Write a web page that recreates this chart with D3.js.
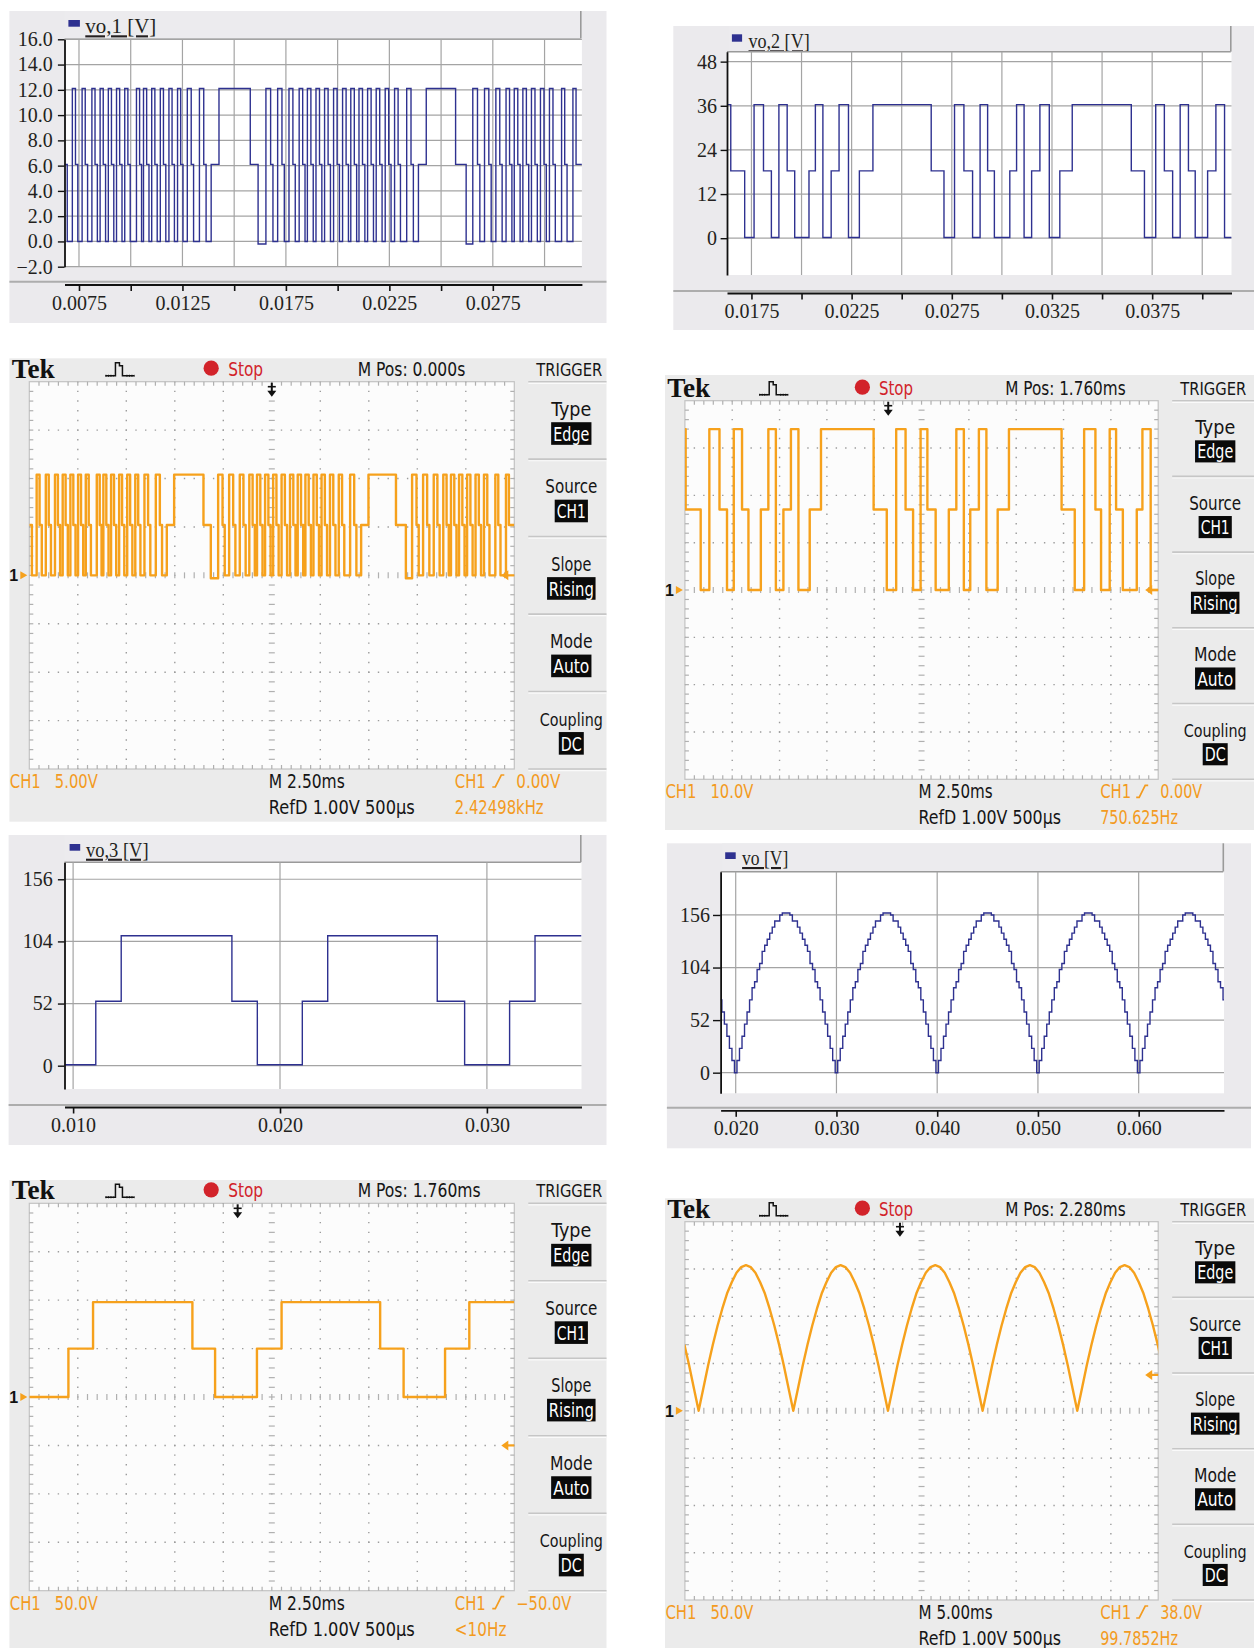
<!DOCTYPE html>
<html><head><meta charset="utf-8">
<script src="https://d3js.org/d3.v7.min.js"></script>
<style>html,body{margin:0;padding:0;background:#fff;} svg{display:block;}</style>
</head><body>
<svg id="fig" width="1254" height="1648" xmlns="http://www.w3.org/2000/svg"></svg>
<script>
// ================= DATA =================
// vo,1 simulation: [time ms, level V] (step after)
const vo1Steps = [[6.80,6.1],[6.933,0],
[7.179,12.1],[7.330,6.1],[7.443,0],[7.651,12.1],[7.802,6.1],[7.916,0],[8.124,12.1],[8.275,6.1],[8.388,0],
[8.521,12.1],[8.672,6.1],[8.785,0],[8.918,12.1],[9.069,6.1],[9.182,0],[9.314,12.1],[9.466,6.1],[9.579,0],
[9.711,12.1],[9.863,6.1],[9.976,0],[10.278,12.1],[10.430,6.1],[10.524,0],[10.618,12.1],[10.770,6.1],[10.883,0],
[11.015,12.1],[11.167,6.1],[11.280,0],[11.431,12.1],[11.582,6.1],[11.696,0],[11.847,12.1],[11.998,6.1],[12.112,0],
[12.263,12.1],[12.414,6.1],[12.527,0],[12.735,12.1],[12.924,6.1],[13.038,0],[13.321,12.1],[13.529,6.1],[13.643,0],
[13.888,6.1],[14.266,12.1],[15.778,6.1],[16.156,-0.2],
[16.534,12.1],[16.761,6.1],[16.874,0],[17.101,12.1],[17.309,6.1],[17.423,0],[17.649,12.1],[17.838,6.1],[17.952,0],
[18.141,12.1],[18.311,6.1],[18.424,0],[18.538,12.1],[18.708,6.1],[18.821,0],[18.954,12.1],[19.124,6.1],[19.237,0],
[19.369,12.1],[19.539,6.1],[19.653,0],[19.804,12.1],[19.974,6.1],[20.087,0],[20.239,12.1],[20.409,6.1],[20.522,0],
[20.636,12.1],[20.806,6.1],[20.919,0],[21.032,12.1],[21.202,6.1],[21.316,0],[21.448,12.1],[21.618,6.1],[21.732,0],
[21.864,12.1],[22.034,6.1],[22.148,0],[22.299,12.1],[22.469,6.1],[22.582,0],[22.752,12.1],[22.922,6.1],[23.036,0],
[23.338,12.1],[23.546,6.1],[23.660,0],
[23.905,6.1],[24.283,12.1],[25.701,6.1],[26.211,-0.2],
[26.532,12.1],[26.759,6.1],[26.873,0],[27.099,12.1],[27.307,6.1],[27.421,0],[27.647,12.1],[27.836,6.1],[27.950,0],
[28.139,12.1],[28.309,6.1],[28.422,0],[28.536,12.1],[28.706,6.1],[28.819,0],[28.952,12.1],[29.122,6.1],[29.235,0],
[29.367,12.1],[29.537,6.1],[29.651,0],[29.802,12.1],[29.972,6.1],[30.085,0],[30.237,12.1],[30.407,6.1],[30.520,0],
[30.823,12.1],[30.974,6.1],[31.088,0],[31.371,12.1],[31.522,6.1],[31.805,6.1]];
const vo1XTicks = [0.0075,0.01,0.0125,0.015,0.0175,0.02,0.0225,0.025,0.0275,0.03];
const vo1XLabels = [0.0075,0.0125,0.0175,0.0225,0.0275];
const vo1YTicks = [-2,0,2,4,6,8,10,12,14,16];

// vo,2 simulation: [time ms, level V]
const vo2Steps = [[16.28,36.3],[16.468,18.3],[17.162,0.2],[17.631,36.3],[18.101,18.3],[18.495,0.2],[18.870,36.3],
[19.283,18.3],[19.659,0.2],[20.372,18.3],[20.691,36.3],[21.066,0.2],[21.479,18.3],[21.873,36.3],[22.343,0.2],
[22.887,18.3],[23.563,36.3],[26.472,18.3],[27.110,0.2],[27.636,36.3],[28.105,18.3],[28.537,0.2],[28.912,36.3],
[29.288,18.3],[29.625,0.2],[30.395,18.3],[30.733,36.3],[31.108,0.2],[31.484,18.3],[31.897,36.3],[32.366,0.2],
[32.891,18.3],[33.511,36.3],[36.458,18.3],[37.115,0.2],[37.678,36.3],[38.109,18.3],[38.522,0.2],[38.898,36.3],
[39.311,18.3],[39.649,0.2],[40.268,18.3],[40.681,36.3],[41.113,0.2],[41.47,0.2]];
const vo2XTicks = [0.0175,0.02,0.0225,0.025,0.0275,0.03,0.0325,0.035,0.0375,0.04];
const vo2XLabels = [0.0175,0.0225,0.0275,0.0325,0.0375];
const vo2YTicks = [0,12,24,36,48];

// vo,3 simulation: [time ms, level V]
const vo3Steps = [[9.584,0.8],[11.096,53.9],[12.325,108.7],[17.675,53.9],[18.904,0.8],[21.078,53.9],[22.306,108.7],
[27.600,53.9],[28.923,0.8],[31.097,53.9],[32.326,108.7],[34.572,108.7]];
const vo3XTicks = [0.010,0.020,0.030];
const vo3YTicks = [0,52,104,156];

// vo simulation: samples every 0.25 ms from 18.5 ms
const voStart = 0.0185, voStep = 0.00025;
const voValues = [72,60,48,36,24,12,
0,12,24,36,48,60,72,84,90,102,108,120,126,132,138,144,150,150,156,158,158,158,156,150,150,144,138,132,126,120,108,102,90,84,72,60,48,36,24,12,
0,12,24,36,48,60,72,84,90,102,108,120,126,132,138,144,150,150,156,158,158,158,156,150,150,144,138,132,126,120,108,102,90,84,72,60,48,36,24,12,
0,12,24,36,48,60,72,84,90,102,108,120,126,132,138,144,150,150,156,158,158,158,156,150,150,144,138,132,126,120,108,102,90,84,72,60,48,36,24,12,
0,12,24,36,48,60,72,84,90,102,108,120,126,132,138,144,150,150,156,158,158,158,156,150,150,144,138,132,126,120,108,102,90,84,72,60,48,36,24,12,
0,12,24,36,48,60,72,84,90,102,108,120,126,132,138,144,150,150,156,158,158,158,156,150,150,144,138,132,126,120,108,102,90,84,72];
const voXTicks = [0.02,0.03,0.04,0.05,0.06];
const voYTicks = [0,52,104,156];

// Oscilloscope captures: [time ms from left of screen, volts]
const scope1Steps = [[0,5.2],[0.133,0],
[0.379,10.4],[0.530,5.2],[0.643,0],[0.851,10.4],[1.002,5.2],[1.116,0],[1.324,10.4],[1.475,5.2],[1.588,0],
[1.721,10.4],[1.872,5.2],[1.985,0],[2.118,10.4],[2.269,5.2],[2.382,0],[2.514,10.4],[2.666,5.2],[2.779,0],
[2.911,10.4],[3.063,5.2],[3.176,0],[3.478,10.4],[3.630,5.2],[3.724,0],[3.818,10.4],[3.970,5.2],[4.083,0],
[4.215,10.4],[4.367,5.2],[4.480,0],[4.631,10.4],[4.782,5.2],[4.896,0],[5.047,10.4],[5.198,5.2],[5.312,0],
[5.463,10.4],[5.614,5.2],[5.727,0],[5.935,10.4],[6.124,5.2],[6.238,0],[6.521,10.4],[6.729,5.2],[6.843,0],
[7.088,5.2],[7.466,10.4],[8.978,5.2],[9.356,-0.3],
[9.734,10.4],[9.961,5.2],[10.074,0],[10.301,10.4],[10.509,5.2],[10.623,0],[10.849,10.4],[11.038,5.2],[11.152,0],
[11.341,10.4],[11.511,5.2],[11.624,0],[11.738,10.4],[11.908,5.2],[12.021,0],[12.154,10.4],[12.324,5.2],[12.437,0],
[12.569,10.4],[12.739,5.2],[12.853,0],[13.004,10.4],[13.174,5.2],[13.287,0],[13.439,10.4],[13.609,5.2],[13.722,0],
[13.836,10.4],[14.006,5.2],[14.119,0],[14.232,10.4],[14.402,5.2],[14.516,0],[14.648,10.4],[14.818,5.2],[14.932,0],
[15.064,10.4],[15.234,5.2],[15.348,0],[15.499,10.4],[15.669,5.2],[15.782,0],[15.952,10.4],[16.122,5.2],[16.236,0],
[16.538,10.4],[16.746,5.2],[16.860,0],
[17.105,5.2],[17.483,10.4],[18.901,5.2],[19.411,-0.3],
[19.732,10.4],[19.959,5.2],[20.073,0],[20.299,10.4],[20.507,5.2],[20.621,0],[20.847,10.4],[21.036,5.2],[21.150,0],
[21.339,10.4],[21.509,5.2],[21.622,0],[21.736,10.4],[21.906,5.2],[22.019,0],[22.152,10.4],[22.322,5.2],[22.435,0],
[22.567,10.4],[22.737,5.2],[22.851,0],[23.002,10.4],[23.172,5.2],[23.285,0],[23.437,10.4],[23.607,5.2],[23.720,0],
[24.023,10.4],[24.174,5.2],[24.288,0],[24.571,10.4],[24.722,5.2],[25.0,5.2]];
const scope2Steps = [[0,34],[0.040,17],[0.834,0],[1.291,34],[1.827,17],[2.224,0],[2.581,34],[3.018,17],[3.356,0],
[4.011,17],[4.408,34],[4.805,0],[5.203,17],[5.600,34],[5.997,0],[6.593,17],[7.188,34],[9.968,17],[10.663,0],
[11.160,34],[11.656,17],[12.053,0],[12.450,34],[12.808,17],[13.245,0],[13.940,17],[14.337,34],[14.734,0],
[15.072,17],[15.528,34],[15.925,0],[16.521,17],[17.117,34],[19.897,17],[20.592,0],[21.088,34],[21.684,17],
[21.981,0],[22.438,34],[22.776,17],[23.133,0],[23.868,17],[24.166,34],[24.602,0],[25.0,0]];
const scope3Steps = [[0,0],[2.016,50],[3.286,98],[8.407,50],[9.577,0],[11.734,50],[13.004,98],[18.085,50],
[19.294,0],[21.431,50],[22.681,98],[25,98]];
const scope4Start = -0.05, scope4Step = 0.5;
const scope4Values = [70,48,24,
0,24,48,70,90,108,124,136,146,152,154,152,146,136,124,108,90,70,48,24,
0,24,48,70,90,108,124,136,146,152,154,152,146,136,124,108,90,70,48,24,
0,24,48,70,90,108,124,136,146,152,154,152,146,136,124,108,90,70,48,24,
0,24,48,70,90,108,124,136,146,152,154,152,146,136,124,108,90,70,48,24,
0,24,48,70,90,108,124,136,146,152,154,152,146,136,124,108,90,70,48,24];
const scopeMenuLabels = ["Type","Source","Slope","Mode","Coupling"];
const scopeMenuValues = ["Edge","CH1","Rising","Auto","DC"];

// ================= STYLE =================
const SIM_BG = '#ebeaed', SIM_LINE = '#2e3190', SIM_GRID = '#a4a4a4';
const SIM_FONT = "'Liberation Serif','Times New Roman',serif";
const SC_BG = '#ebebeb', ORANGE = '#f6a11c', OR_TXT = '#f39b1f', RED = '#d2232a';
const SC_FONT = "'Liberation Sans Narrow','DejaVu Sans Condensed','Roboto Condensed','Liberation Sans',sans-serif";

const svg = d3.select('#fig');
const defs = svg.append('defs');
let clipId = 0;

function txt(g, x, y, s, o = {}) {
  const t = g.append('text').attr('x', x).attr('y', y).text(s)
    .attr('font-family', o.ff || SC_FONT).attr('font-size', o.fs || 19)
    .attr('fill', o.fill || '#151515');
  if (o.anchor) t.attr('text-anchor', o.anchor);
  if (o.w) t.attr('textLength', o.w).attr('lengthAdjust', 'spacingAndGlyphs');
  if (o.fw) t.attr('font-weight', o.fw);
  return t;
}

// ================= SIMULATION PANELS =================
function simPanel(c) {
  const g = svg.append('g');
  const [px0, py0, px1, py1] = c.plot;
  g.append('rect').attr('x', c.bg[0]).attr('y', c.bg[1]).attr('width', c.bg[2] - c.bg[0])
    .attr('height', c.bg[3] - c.bg[1]).attr('fill', SIM_BG);
  g.append('rect').attr('x', c.legend[0]).attr('y', c.legend[1]).attr('width', c.legend[2] - c.legend[0])
    .attr('height', c.legend[3] - c.legend[1]).attr('fill', '#ecebee');
  g.append('line').attr('x1', c.legend[2]).attr('x2', c.legend[2]).attr('y1', c.legend[1]).attr('y2', c.legend[3])
    .attr('stroke', '#9a9a9a').attr('stroke-width', 1.6);
  g.append('rect').attr('x', c.sq[0]).attr('y', c.sq[1]).attr('width', c.sq[2]).attr('height', c.sq[3]).attr('fill', SIM_LINE);
  txt(g, c.lt[0], c.lt[1], c.label, {ff: SIM_FONT, fs: 21, w: c.lt[2], fill: '#231f20'})
    .attr('text-decoration', 'underline');

  const x = d3.scaleLinear().domain(c.xDomain).range([px0, px1]);
  const y = d3.scaleLinear().domain(c.yDomain).range([py1, py0]);

  g.append('rect').attr('x', px0).attr('y', py0).attr('width', px1 - px0).attr('height', py1 - py0).attr('fill', '#fff');
  g.append('line').attr('x1', px0).attr('x2', c.legend[2]).attr('y1', py0).attr('y2', py0)
    .attr('stroke', '#9a9a9a').attr('stroke-width', 1.4);
  g.append('g').selectAll('line').data(c.xTicks).join('line')
    .attr('x1', d => x(d)).attr('x2', d => x(d)).attr('y1', py0).attr('y2', py1)
    .attr('stroke', SIM_GRID).attr('stroke-width', 1.2);
  g.append('g').selectAll('line').data(c.yTicks).join('line')
    .attr('x1', px0).attr('x2', px1).attr('y1', d => y(d)).attr('y2', d => y(d))
    .attr('stroke', SIM_GRID).attr('stroke-width', 1.2);
  const cid = 'clip' + (clipId++);
  defs.append('clipPath').attr('id', cid).append('rect').attr('x', px0).attr('y', py0)
    .attr('width', px1 - px0).attr('height', py1 - py0);
  const line = d3.line().x(d => x(d[0])).y(d => y(d[1])).curve(c.curve);
  g.append('path').datum(c.data).attr('d', line).attr('clip-path', `url(#${cid})`)
    .attr('fill', 'none').attr('stroke', SIM_LINE).attr('stroke-width', 1.4);
  const ya = g.append('g').attr('transform', `translate(${px0},0)`)
    .call(d3.axisLeft(y).tickValues(c.yTicks).tickFormat(c.yFmt).tickSize(c.yTick).tickSizeOuter(0).tickPadding(c.yPad));
  ya.select('.domain').attr('stroke', '#111').attr('stroke-width', 1.8);
  ya.selectAll('.tick line').attr('stroke', '#111').attr('stroke-width', 1.4);
  ya.selectAll('text').attr('font-family', SIM_FONT).attr('font-size', 20).attr('fill', '#231f20');
  g.append('line').attr('x1', c.bg[0]).attr('x2', c.bg[2]).attr('y1', c.sep).attr('y2', c.sep)
    .attr('stroke', '#adadad').attr('stroke-width', 2);
  const labelled = v => c.xLabels.some(l => Math.abs(l - v) < 1e-9);
  const xa = g.append('g').attr('transform', `translate(0,${c.axisY})`)
    .call(d3.axisBottom(x).tickValues(c.xTicks).tickFormat(v => labelled(v) ? c.xFmt(v) : '')
      .tickSize(6.5).tickSizeOuter(0).tickPadding(4.3));
  xa.select('.domain').attr('stroke', '#111').attr('stroke-width', 1.8);
  xa.selectAll('.tick line').attr('stroke', '#111').attr('stroke-width', 1.6);
  xa.selectAll('text').attr('font-family', SIM_FONT).attr('font-size', 20).attr('fill', '#231f20');
}

simPanel({
  bg: [9.4, 11, 606.5, 323], legend: [64.5, 11, 580.8, 38.3], sq: [68.4, 20, 11.5, 6.7], lt: [85.3, 33.3, 71],
  label: 'vo,1 [V]', plot: [64.5, 39.3, 581.9, 266.7], xDomain: [0.0068, 0.031805], yDomain: [-2, 16],
  xTicks: vo1XTicks, xLabels: vo1XLabels, yTicks: vo1YTicks, yFmt: d3.format('.1f'), xFmt: d3.format('.4f'),
  yTick: 6.6, yPad: 5.1, sep: 281.7, axisY: 284.5,
  data: vo1Steps.map(d => [d[0] / 1000, d[1]]), curve: d3.curveStepAfter
});
simPanel({
  bg: [673.3, 26, 1254, 330], legend: [728.9, 26, 1230.8, 51.7], sq: [731.9, 34.3, 10.2, 7.4], lt: [748.5, 48.3, 61.2],
  label: 'vo,2 [V]', plot: [727, 51.7, 1231.5, 275], xDomain: [0.01628, 0.04146], yDomain: [-10, 50.7],
  xTicks: vo2XTicks, xLabels: vo2XLabels, yTicks: vo2YTicks, yFmt: d3.format('d'), xFmt: d3.format('.4f'),
  yTick: 6.4, yPad: 3.7, sep: 291, axisY: 293,
  data: vo2Steps.map(d => [d[0] / 1000, d[1]]), curve: d3.curveStepAfter
});
simPanel({
  bg: [8.6, 835, 606.5, 1145], legend: [64.5, 835, 580.8, 862.3], sq: [69.6, 844, 10.6, 6.7], lt: [86, 856.7, 62.6],
  label: 'vo,3 [V]', plot: [64.5, 862.3, 581.5, 1089], xDomain: [0.009584, 0.034572], yDomain: [-19.5, 170.2],
  xTicks: vo3XTicks, xLabels: vo3XTicks, yTicks: vo3YTicks, yFmt: d3.format('d'), xFmt: d3.format('.3f'),
  yTick: 6.6, yPad: 5.1, sep: 1105, axisY: 1107,
  data: vo3Steps.map(d => [d[0] / 1000, d[1]]), curve: d3.curveStepAfter
});
simPanel({
  bg: [666.9, 843.3, 1251, 1148.3], legend: [722.1, 843.3, 1223.3, 871.7], sq: [725.2, 852.3, 10.5, 6.7], lt: [742.1, 865, 46.2],
  label: 'vo [V]', plot: [720.6, 871.7, 1224, 1093.3], xDomain: [0.0185, 0.06847], yDomain: [-20.4, 198.8],
  xTicks: voXTicks, xLabels: voXTicks, yTicks: voYTicks, yFmt: d3.format('d'), xFmt: d3.format('.3f'),
  yTick: 7.6, yPad: 2.9, sep: 1107.7, axisY: 1110.3,
  data: voValues.map((v, i) => [voStart + voStep * i, v]), curve: d3.curveStep
});

// ================= OSCILLOSCOPE PANELS =================
function scopePanel(c) {
  const g = svg.append('g');
  const L = c.L, T = c.T, W = c.W, H = c.H, R = L + W, B = T + H, s = W / 485;
  g.append('rect').attr('x', c.bg[0]).attr('y', c.bg[1]).attr('width', c.bg[2] - c.bg[0])
    .attr('height', c.bg[3] - c.bg[1]).attr('fill', SC_BG);
  txt(g, L - 17.6, T - 4, 'Tek', {ff: "'Liberation Serif',serif", fs: 27, fw: 'bold', w: 43, fill: '#111'});
  const ix = L + 0.157 * W;
  g.append('path').attr('d', `M${ix},${T - 6} h10 V${T - 19} h4 v3 h3 V${T - 6} h12`)
    .attr('fill', 'none').attr('stroke', '#111').attr('stroke-width', 1.5);
  g.append('path').attr('d', `M${ix},${T - 6} h8 M${ix + 21},${T - 6} h8`)
    .attr('fill', 'none').attr('stroke', '#111').attr('stroke-width', 2).attr('stroke-dasharray', '1 1.5');
  g.append('circle').attr('cx', L + 0.375 * W).attr('cy', T - 13.5).attr('r', 7.6).attr('fill', RED);
  txt(g, L + 0.41 * W, T - 6, 'Stop', {fill: RED, w: 35 * s});
  txt(g, L + 0.677 * W, T - 6, c.mposText, {w: c.mposW});
  txt(g, R + 88, T - 6, 'TRIGGER', {fs: 17, w: 66, anchor: 'end'});

  const x = d3.scaleLinear().domain([0, 10 * c.msDiv]).range([L, R]);
  const y = d3.scaleLinear().domain([-4 * c.vDiv, 4 * c.vDiv]).range([B, T]);

  g.append('rect').attr('x', L).attr('y', T).attr('width', W).attr('height', H)
    .attr('fill', '#fcfcfc').attr('stroke', '#c2c2c2').attr('stroke-width', 1.2);
  const gridV = d3.range(1, 10).filter(i => i !== 5).map(i => i * c.msDiv);
  const gridH = d3.range(-3, 4).filter(j => j !== 0).map(j => j * c.vDiv);
  const dy = H / 40, dx = W / 50;
  g.append('g').selectAll('line').data(gridV).join('line')
    .attr('x1', d => x(d)).attr('x2', d => x(d)).attr('y1', T).attr('y2', B)
    .attr('stroke', '#9c9c9c').attr('stroke-width', 1.4).attr('stroke-dasharray', `1.4 ${dy - 1.4}`)
    .attr('stroke-dashoffset', 0.7);
  g.append('g').selectAll('line').data(gridH).join('line')
    .attr('x1', L).attr('x2', R).attr('y1', d => y(d)).attr('y2', d => y(d))
    .attr('stroke', '#9c9c9c').attr('stroke-width', 1.4).attr('stroke-dasharray', `1.4 ${dx - 1.4}`)
    .attr('stroke-dashoffset', 0.7);
  const cx = x(5 * c.msDiv), cy = y(0);
  const tk = g.append('g').attr('stroke', '#b0b0b0').attr('stroke-width', 1.2);
  d3.range(1, 40).forEach(k => {
    const yy = T + k * dy;
    tk.append('line').attr('x1', cx - 3).attr('x2', cx + 3).attr('y1', yy).attr('y2', yy);
    tk.append('line').attr('x1', L).attr('x2', L + 4).attr('y1', yy).attr('y2', yy);
    tk.append('line').attr('x1', R - 4).attr('x2', R).attr('y1', yy).attr('y2', yy);
  });
  d3.range(1, 50).forEach(k => {
    const xx = L + k * dx;
    tk.append('line').attr('x1', xx).attr('x2', xx).attr('y1', cy - 3).attr('y2', cy + 3);
    tk.append('line').attr('x1', xx).attr('x2', xx).attr('y1', T).attr('y2', T + 4);
    tk.append('line').attr('x1', xx).attr('x2', xx).attr('y1', B - 4).attr('y2', B);
  });

  const cid = 'clip' + (clipId++);
  defs.append('clipPath').attr('id', cid).append('rect').attr('x', L).attr('y', T).attr('width', W).attr('height', H);
  const line = d3.line().x(d => x(d[0])).y(d => y(d[1])).curve(c.curve);
  g.append('path').datum(c.data).attr('d', line).attr('clip-path', `url(#${cid})`)
    .attr('fill', 'none').attr('stroke', ORANGE).attr('stroke-width', 2.4).attr('stroke-linejoin', 'round');

  const ax = x(5 * c.msDiv - c.mpos);
  g.append('line').attr('x1', ax).attr('x2', ax).attr('y1', T + 1).attr('y2', T + 10).attr('stroke', '#111').attr('stroke-width', 2);
  g.append('line').attr('x1', ax - 4).attr('x2', ax + 4).attr('y1', T + 5).attr('y2', T + 5).attr('stroke', '#111').attr('stroke-width', 1.6);
  g.append('path').attr('d', `M${ax - 4.5},${T + 9} L${ax + 4.5},${T + 9} L${ax},${T + 15} Z`).attr('fill', '#111');
  txt(g, L - 20, cy + 6, '1', {ff: "'Liberation Sans',sans-serif", fs: 16, fw: 'bold', fill: '#111'});
  g.append('path').attr('d', `M${L - 9},${cy - 4} L${L - 2},${cy} L${L - 9},${cy + 4} Z`).attr('fill', ORANGE);
  const ty = y(c.trig);
  g.append('line').attr('x1', R - 8).attr('x2', R).attr('y1', ty).attr('y2', ty).attr('stroke', ORANGE).attr('stroke-width', 2.2);
  g.append('path').attr('d', `M${R - 13},${ty} L${R - 6},${ty - 5} L${R - 6},${ty + 5} Z`).attr('fill', ORANGE);

  const mc = R + 57, cell = H / 5, mx1 = c.bg[2];
  for (let k = 0; k <= 5; k++) {
    const yy = T + k * cell;
    g.append('line').attr('x1', R + 14).attr('x2', mx1).attr('y1', yy).attr('y2', yy).attr('stroke', '#c6c6c6').attr('stroke-width', 1.6);
    g.append('line').attr('x1', R + 14).attr('x2', mx1).attr('y1', yy + 1.6).attr('y2', yy + 1.6).attr('stroke', '#fafafa').attr('stroke-width', 1.2);
  }
  const lblW = {Type: 40, Source: 52, Slope: 40, Mode: 42.5, Coupling: 63};
  const lblF = {Type: 20, Source: 20, Slope: 20, Mode: 20, Coupling: 17};
  const boxW = {Edge: 40.3, CH1: 33.2, Rising: 48.5, Auto: 40.3, DC: 25};
  const boxTW = {Edge: 36, CH1: 29, Rising: 45, Auto: 36, DC: 21};
  scopeMenuLabels.forEach((lab, k) => {
    const top = T + k * cell;
    txt(g, mc, top + 0.44 * cell, lab, {fs: lblF[lab], anchor: 'middle', w: lblW[lab]});
    const v = scopeMenuValues[k], by = top + 0.523 * cell, bh = 0.292 * cell;
    g.append('rect').attr('x', mc - boxW[v] / 2).attr('y', by).attr('width', boxW[v]).attr('height', bh).attr('fill', '#0a0a0a');
    txt(g, mc, by + bh - 4, v, {fs: 19, anchor: 'middle', w: boxTW[v], fill: '#fff'});
  });

  txt(g, L - 19.5, B + 19, 'CH1', {fill: OR_TXT, w: 31});
  txt(g, L + 25.5, B + 19, c.volts, {fill: OR_TXT, w: 43});
  txt(g, L + W / 2 - 3, B + 19, c.mText, {w: 76 * s});
  txt(g, L + W / 2 - 3, B + 45, 'RefD 1.00V 500\u03bcs', {w: 146 * s});
  txt(g, R - 59.5 * s, B + 19, 'CH1', {fill: OR_TXT, w: 31});
  g.append('path').attr('d', `M${R - 22},${B + 18} h3 l6,-12 h3`).attr('fill', 'none').attr('stroke', OR_TXT).attr('stroke-width', 1.7);
  txt(g, R + 2, B + 19, c.trigText, {fill: OR_TXT, w: c.trigW});
  txt(g, R - 59.5 * s, B + 45, c.freq, {fill: OR_TXT, w: c.freqW});
}

scopePanel({L: 29.3, T: 381.7, W: 485, H: 387.3, bg: [9.4, 358.3, 606.5, 821.7], vDiv: 5, msDiv: 2.5,
  mpos: 0, mposText: 'M Pos: 0.000s', mposW: 107.6, trig: 0, trigText: '0.00V', trigW: 44,
  volts: '5.00V', mText: 'M 2.50ms', freq: '2.42498kHz', freqW: 88.8,
  data: scope1Steps, curve: d3.curveStepAfter});
scopePanel({L: 684.9, T: 400.7, W: 473.3, H: 378.6, bg: [665, 375, 1254, 830], vDiv: 10, msDiv: 2.5,
  mpos: 1.76, mposText: 'M Pos: 1.760ms', mposW: 120.3, trig: 0, trigText: '0.00V', trigW: 42,
  volts: '10.0V', mText: 'M 2.50ms', freq: '750.625Hz', freqW: 77.8,
  data: scope2Steps, curve: d3.curveStepAfter});
scopePanel({L: 29.3, T: 1203.3, W: 485, H: 387.4, bg: [9.4, 1180, 606.5, 1648], vDiv: 50, msDiv: 2.5,
  mpos: 1.76, mposText: 'M Pos: 1.760ms', mposW: 123, trig: -50, trigText: '\u221250.0V', trigW: 55,
  volts: '50.0V', mText: 'M 2.50ms', freq: '<10Hz', freqW: 51.6,
  data: scope3Steps, curve: d3.curveStepAfter});
scopePanel({L: 684.9, T: 1221.7, W: 473.3, H: 378.3, bg: [665, 1198.3, 1254, 1648], vDiv: 50, msDiv: 5,
  mpos: 2.28, mposText: 'M Pos: 2.280ms', mposW: 120.3, trig: 38, trigText: '38.0V', trigW: 42,
  volts: '50.0V', mText: 'M 5.00ms', freq: '99.7852Hz', freqW: 77.8,
  data: scope4Values.map((v, i) => [scope4Start + scope4Step * i, v]), curve: d3.curveLinear});
</script>
</body></html>
